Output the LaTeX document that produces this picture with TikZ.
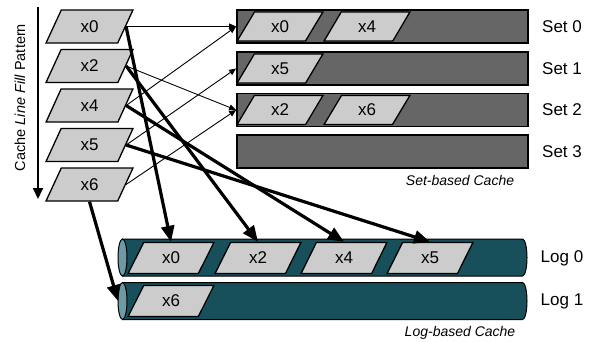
\documentclass[tikz,border=0pt]{standalone}
\usepackage{fontspec}
\setmainfont{Liberation Sans}
\usetikzlibrary{shapes.geometric,arrows.meta}
\definecolor{cellgray}{HTML}{CCCCCC}
\definecolor{setgray}{HTML}{666666}
\definecolor{logteal}{HTML}{174F5B}
\definecolor{logend}{HTML}{6C9BA5}
\begin{document}
\begin{tikzpicture}[x=1pt,y=-1pt,
  cell/.style={trapezium, trapezium stretches=true, draw=black, line width=1.3pt,
    fill=cellgray, inner sep=0pt, font=\fontsize{17}{17}\selectfont},
  linecell/.style={cell, trapezium left angle=68, trapezium right angle=112,
    minimum width=87pt, minimum height=33pt},
  setcell/.style={cell, trapezium left angle=63, trapezium right angle=117,
    minimum width=86pt, minimum height=29pt},
  logcell/.style={cell, trapezium left angle=67, trapezium right angle=113,
    minimum width=86pt, minimum height=31pt},
  setrow/.style={rectangle, draw=black, line width=1.8pt, fill=setgray,
    minimum width=291pt, minimum height=33pt, inner sep=0pt},
  rowlabel/.style={font=\fontsize{17}{17}\selectfont, inner sep=0pt},
  caption/.style={font=\fontsize{14}{14}\selectfont\itshape, inner sep=0pt},
  logbody/.style={draw=black, line width=1pt, fill=logteal},
  logcap/.style={draw=black, line width=1pt, fill=logend},
  fineline/.style={-{Triangle[length=7pt,width=6pt]}, line width=0.9pt},
  boldline/.style={-{Triangle[length=16pt,width=13pt]}, line width=3.2pt},
]
\useasboundingbox (0,0) rectangle (593,341);

% fill-order axis
\coordinate (fillstart) at (38,7);
\coordinate (fillend) at (38,199);
\draw[-{Triangle[length=11pt,width=10pt]}, line width=1.8pt] (fillstart) -- (fillend);
\node[rotate=90, font=\fontsize{14.5}{14.5}\selectfont, inner sep=0pt] (filllabel) at (20,97.5)
  {Cache \textit{Line Fill} Pattern};

% incoming cache lines
\node[linecell] (l0) at (89.5,26.5) {x0};
\node[linecell] (l2) at (89.5,66) {x2};
\node[linecell] (l4) at (89.5,105.5) {x4};
\node[linecell] (l5) at (89.5,145) {x5};
\node[linecell] (l6) at (89.5,184.5) {x6};

% set-based cache
\node[setrow] (set0) at (382.5,26.5) {};
\node[setrow] (set1) at (382.5,68.5) {};
\node[setrow] (set2) at (382.5,110) {};
\node[setrow] (set3) at (382.5,151.5) {};
\node[setcell] (s0x0) at (280,26.5) {x0};
\node[setcell] (s0x4) at (367,26.5) {x4};
\node[setcell] (s1x5) at (280,68.5) {x5};
\node[setcell] (s2x2) at (280,110) {x2};
\node[setcell] (s2x6) at (367,110) {x6};
\node[rowlabel] (lab0) at (562,26.5) {Set 0};
\node[rowlabel] (lab1) at (562,68.5) {Set 1};
\node[rowlabel] (lab2) at (562,110) {Set 2};
\node[rowlabel] (lab3) at (562,151.5) {Set 3};
\node[caption] (setcap) at (460,180) {Set-based Cache};

% log-based cache (two horizontal cylinders)
\foreach \yc in {257.5,301}{
  \draw[logbody] (122.5,\yc-18.5) -- (522.5,\yc-18.5)
    arc[start angle=-90, end angle=90, x radius=4.5, y radius=18.5]
    -- (122.5,\yc+18.5) -- cycle;
  \draw[logcap] (122.5,\yc) ellipse[x radius=4.5, y radius=18.5];
}
\coordinate (log1end) at (118,301);
\node[logcell] (g0x0) at (171,258) {x0};
\node[logcell] (g0x2) at (258,258) {x2};
\node[logcell] (g0x4) at (344,258) {x4};
\node[logcell] (g0x5) at (430,258) {x5};
\node[logcell] (g1x6) at (171,301) {x6};
\node[rowlabel] (loglab0) at (562,258) {Log 0};
\node[rowlabel] (loglab1) at (562,301) {Log 1};
\node[caption] (logcap) at (460,333) {Log-based Cache};

% placement into sets
\draw[fineline] (l0.east) -- (set0.west);
\draw[fineline] (l2.east) -- (set2.west);
\draw[fineline] (l4.east) -- (set0.west);
\draw[fineline] (l5.east) -- (set1.west);
\draw[fineline] (l6.east) -- (set2.west);

% placement into logs
\draw[boldline] (l0.east) -- (g0x0.north);
\draw[boldline] (l2.east) -- (g0x2.north);
\draw[boldline] (l4.east) -- (g0x4.north);
\draw[boldline] (l5.east) -- (g0x5.north);
\draw[boldline] (l6.south) -- (log1end);
\end{tikzpicture}
\end{document}
